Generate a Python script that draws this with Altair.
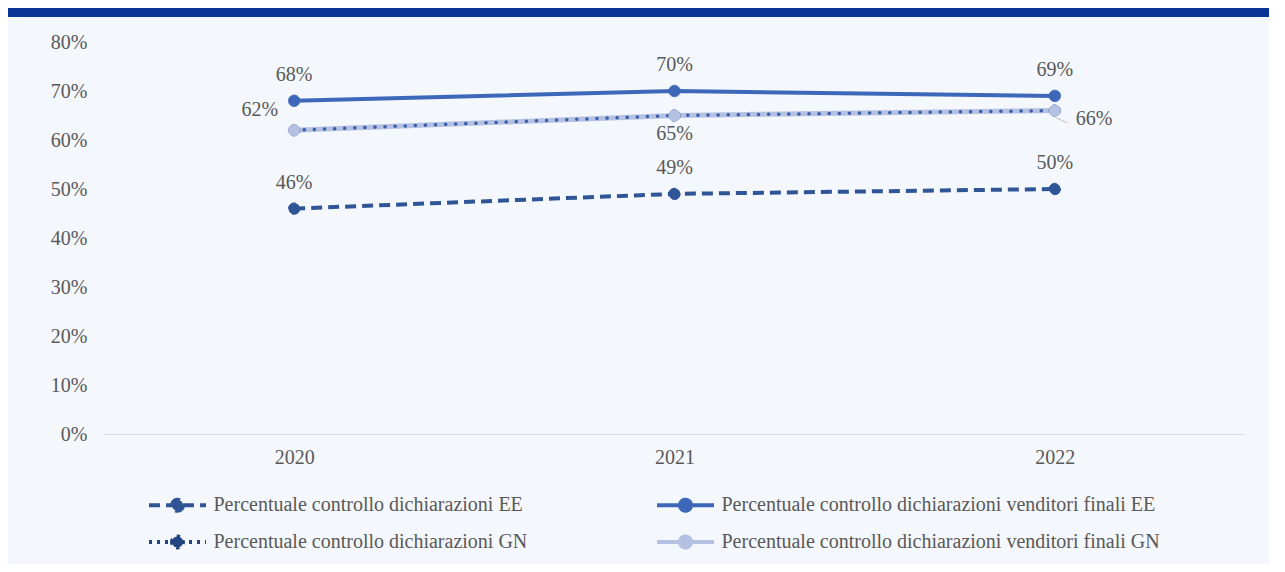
import altair as alt
import pandas as pd

years = ["2020", "2021", "2022"]
serie = [
    "Percentuale controllo dichiarazioni EE",
    "Percentuale controllo dichiarazioni GN",
    "Percentuale controllo dichiarazioni venditori finali EE",
    "Percentuale controllo dichiarazioni venditori finali GN",
]
decl_ee = [0.46, 0.49, 0.50]
decl_gn = [0.62, 0.65, 0.66]
vend_ee = [0.68, 0.70, 0.69]
vend_gn = [0.62, 0.65, 0.66]
y_ticks = [0, 0.1, 0.2, 0.3, 0.4, 0.5, 0.6, 0.7, 0.8]

colors = ["#2f5597", "#24447f", "#3d68ba", "#b4c1e2"]
legend_dash = [[11, 6], [3, 5], [1, 0], [1, 0]]

rows = []
for s, vals in [(serie[0], decl_ee), (serie[2], vend_ee), (serie[1], decl_gn), (serie[3], vend_gn)]:
    for yr, v in zip(years, vals):
        rows.append({"anno": yr, "serie": s, "valore": v})
df = pd.DataFrame(rows)

FONT = "Liberation Serif"
TXT = "#595959"
FS = 20

x_enc = alt.X(
    "anno:N",
    scale=alt.Scale(type="point", domain=years, padding=0.5),
    axis=alt.Axis(title=None, labelAngle=0, ticks=False, domainColor="#d9d9d9",
                  domainWidth=1, labelPadding=13, labelFontSize=FS, labelColor=TXT,
                  labelFont=FONT, grid=False),
)
y_enc = alt.Y(
    "valore:Q",
    scale=alt.Scale(domain=[0, 0.8], nice=False),
    axis=alt.Axis(title=None, format=".0%", values=y_ticks, domain=False, ticks=False,
                  grid=False, labelPadding=17, labelFontSize=FS, labelColor=TXT,
                  labelFont=FONT),
)

base = alt.Chart(df)


def line_layer(s, color, width, dash=None, cap="butt"):
    kw = dict(color=color, strokeWidth=width, strokeCap=cap)
    if dash is not None:
        kw["strokeDash"] = dash
    return base.transform_filter(alt.datum.serie == s).mark_line(**kw).encode(x=x_enc, y=y_enc)


lines = [
    line_layer(serie[0], colors[0], 4, [11, 6]),
    line_layer(serie[2], colors[2], 4),
    line_layer(serie[3], colors[3], 5),
    line_layer(serie[1], "#3a5ea8", 3.5, [0.1, 10], "round"),
]

sym_path = "M-1.5,0H1.5M-0.29,0A0.29,0.29,0,1,1,0.29,0A0.29,0.29,0,1,1,-0.29,0Z"


def leg():
    return alt.Legend(
        title=None, orient="none", legendX=52.5, legendY=442, columns=2,
        symbolType=sym_path, symbolSize=1444, symbolStrokeWidth=4,
        labelFont=FONT, labelFontSize=FS, labelColor=TXT, labelOffset=15,
        columnPadding=121, rowPadding=2, labelLimit=600,
    )


points = base.mark_point(filled=True, size=130, opacity=1, strokeWidth=1).encode(
    x=x_enc,
    y=y_enc,
    color=alt.Color("serie:N", scale=alt.Scale(domain=serie, range=colors), legend=leg()),
    stroke=alt.Stroke("serie:N", scale=alt.Scale(domain=serie, range=colors), legend=leg()),
    strokeDash=alt.StrokeDash("serie:N", scale=alt.Scale(domain=serie, range=legend_dash),
                              legend=leg()),
)

text_kw = dict(font=FONT, fontSize=FS, color=TXT)
txt = alt.Text("valore:Q", format=".0%")

above = base.transform_filter(
    alt.FieldOneOfPredicate(field="serie", oneOf=[serie[0], serie[2]])
).mark_text(dy=-26, **text_kw).encode(x=x_enc, y=y_enc, text=txt)

gn = base.transform_filter(alt.datum.serie == serie[3])
left = gn.transform_filter(alt.datum.anno == years[0]).mark_text(
    align="right", dx=-16, dy=-20, **text_kw).encode(x=x_enc, y=y_enc, text=txt)
below = gn.transform_filter(alt.datum.anno == years[1]).mark_text(
    dy=18, **text_kw).encode(x=x_enc, y=y_enc, text=txt)
right = gn.transform_filter(alt.datum.anno == years[2]).mark_text(
    align="left", dx=21, dy=8, **text_kw).encode(x=x_enc, y=y_enc, text=txt)
leader = gn.transform_filter(alt.datum.anno == years[2]).mark_text(
    text="—", angle=25, dx=10, dy=5, font=FONT, fontSize=13, color="#a6a6a6"
).encode(x=x_enc, y=y_enc)

band = alt.Chart(pd.DataFrame({"k": [0]})).mark_rect(color="#0a3597").encode(
    x=alt.value(-96), x2=alt.value(1165), y=alt.value(-34), y2=alt.value(-25)
)

chart = alt.layer(
    band, *lines, points, above, left, below, right, leader
).properties(
    width=1141, height=392,
    padding={"left": 96, "top": 34, "right": 24, "bottom": 130},
    autosize=alt.AutoSizeParams(type="none"),
    background="#f4f7fb",
).configure_view(stroke=None)

chart.save("out.html", embed_options={"renderer": "svg", "actions": False})
